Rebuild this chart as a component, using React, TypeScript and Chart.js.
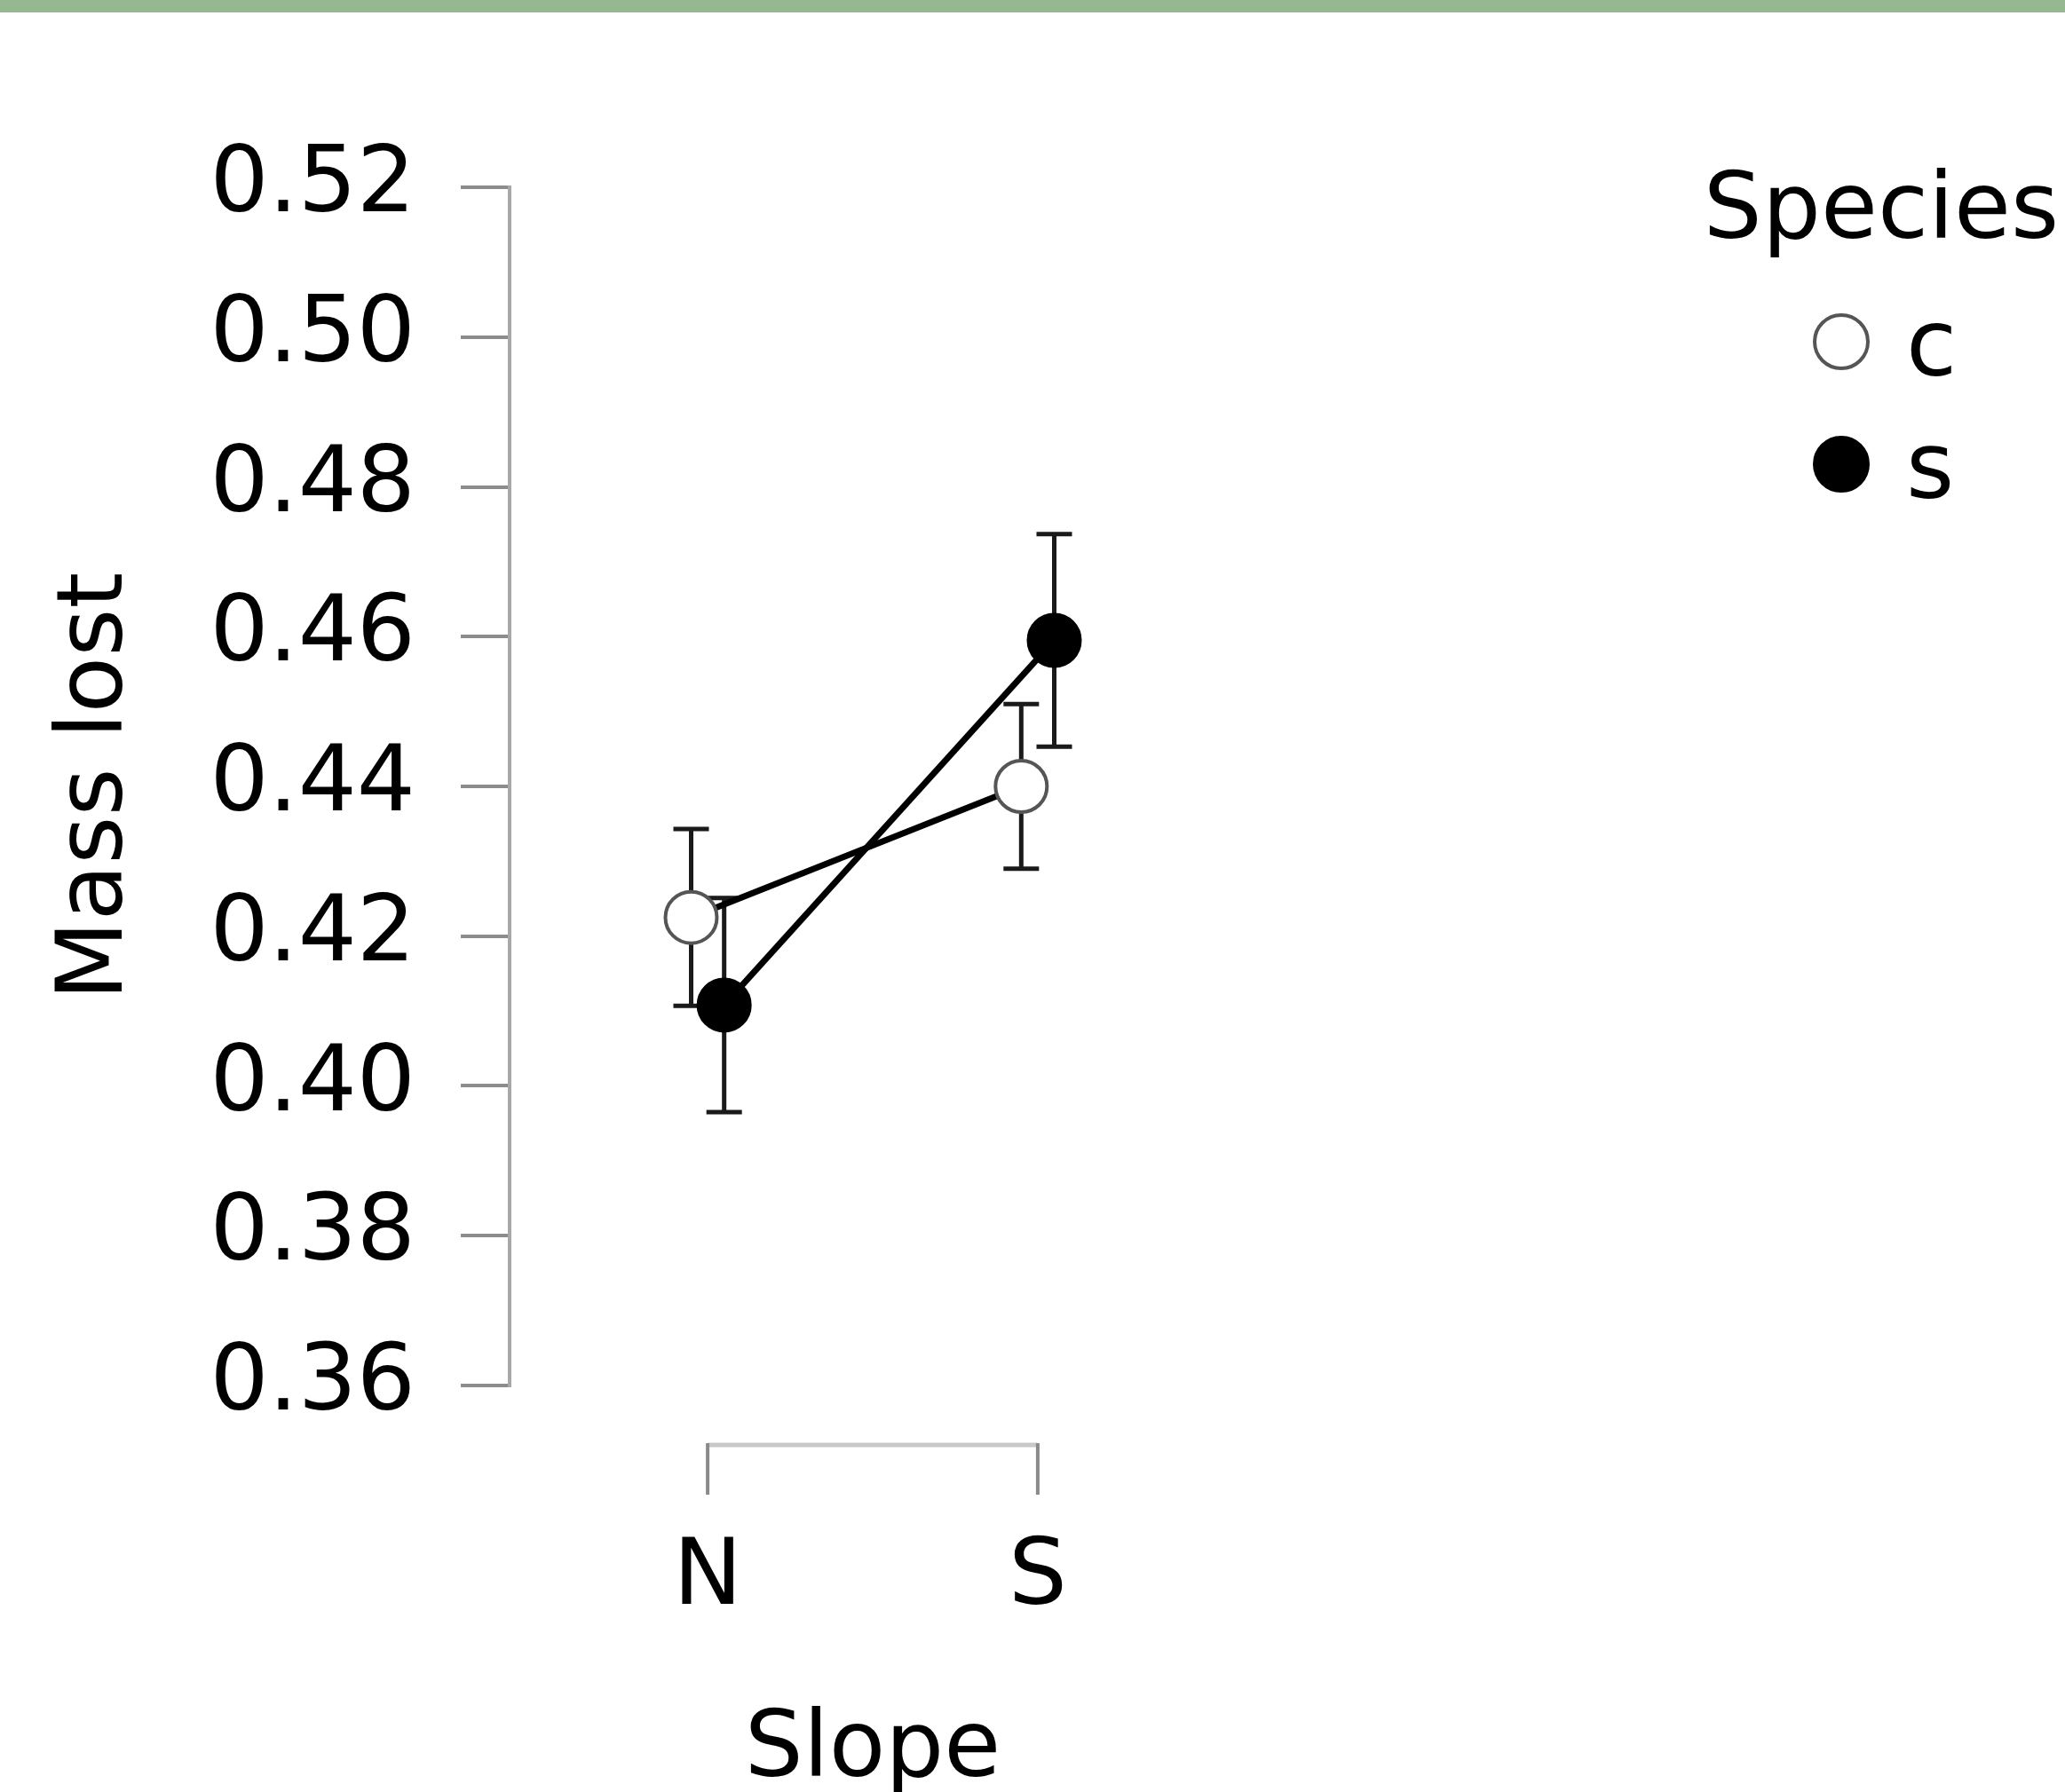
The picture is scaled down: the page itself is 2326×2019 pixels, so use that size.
import React, { useEffect, useRef } from 'react';
import { Chart, registerables } from 'chart.js';

Chart.register(...registerables);

// ---- data ----
const slopeLevels = ['N', 'S'];
const speciesNames = ['c', 's'];
const cMeans = [0.4225, 0.44];
const cErrors = [0.0118, 0.011];
const sMeans = [0.4108, 0.4595];
const sErrors = [0.0143, 0.0142];
const yTickValues = [0.36, 0.38, 0.4, 0.42, 0.44, 0.46, 0.48, 0.5, 0.52];
const xTitle = 'Slope';
const yTitle = 'Mass lost';
const legendTitle = 'Species';

// ---- style ----
const FONT = "'DejaVu Sans', sans-serif";
const FS = 104;
const W = 2326;
const H = 2019;
const DODGE = 0.05;

const errorBarPlugin = {
  id: 'errorBars',
  beforeDatasetsDraw(chart: any) {
    const { ctx } = chart;
    const ys = chart.scales.y;
    chart.data.datasets.forEach((ds: any, di: number) => {
      const meta = chart.getDatasetMeta(di);
      ctx.save();
      ctx.strokeStyle = '#1a1a1a';
      ctx.lineWidth = 5;
      meta.data.forEach((pt: any, i: number) => {
        const m = ds.data[i].y;
        const e = ds.errors[i];
        const x = pt.x;
        const top = ys.getPixelForValue(m + e);
        const bot = ys.getPixelForValue(m - e);
        ctx.beginPath();
        ctx.moveTo(x, top);
        ctx.lineTo(x, bot);
        ctx.moveTo(x - 20, top);
        ctx.lineTo(x + 20, top);
        ctx.moveTo(x - 20, bot);
        ctx.lineTo(x + 20, bot);
        ctx.stroke();
      });
      ctx.restore();
    });
  },
};

const xBracketPlugin = {
  id: 'xBracket',
  afterDraw(chart: any) {
    const { ctx, chartArea } = chart;
    const xs = chart.scales.x;
    const x0 = xs.getPixelForValue(0);
    const x1 = xs.getPixelForValue(slopeLevels.length - 1);
    const yLine = chartArea.bottom + 67;
    ctx.save();
    ctx.strokeStyle = '#c8c8c8';
    ctx.lineWidth = 5;
    ctx.beginPath();
    ctx.moveTo(x0, yLine);
    ctx.lineTo(x1, yLine);
    ctx.stroke();
    ctx.strokeStyle = '#8a8a8a';
    ctx.lineWidth = 4;
    slopeLevels.forEach((_, i) => {
      const px = xs.getPixelForValue(i);
      ctx.beginPath();
      ctx.moveTo(px, yLine - 2);
      ctx.lineTo(px, yLine + 56);
      ctx.stroke();
    });
    ctx.restore();
  },
};

const legendPlugin = {
  id: 'speciesLegend',
  afterDraw(chart: any) {
    const { ctx } = chart;
    ctx.save();
    ctx.font = `${FS}px ${FONT}`;
    ctx.fillStyle = '#000';
    ctx.textAlign = 'center';
    ctx.textBaseline = 'alphabetic';
    ctx.fillText(legendTitle, 2119, 268);
    chart.data.datasets.forEach((ds: any, i: number) => {
      const cx = 2074;
      const cy = 385 + i * 138;
      ctx.beginPath();
      ctx.arc(cx, cy, 30, 0, Math.PI * 2);
      ctx.fillStyle = ds.pointBackgroundColor;
      ctx.fill();
      ctx.lineWidth = ds.pointBorderWidth;
      ctx.strokeStyle = ds.pointBorderColor;
      ctx.stroke();
      ctx.fillStyle = '#000';
      ctx.textAlign = 'left';
      ctx.fillText(ds.label, 2147, cy + 38);
    });
    ctx.restore();
  },
};

export default function App() {
  const canvasRef = useRef<HTMLCanvasElement | null>(null);

  useEffect(() => {
    if (!canvasRef.current) return;
    const cData = cMeans.map((v, i) => ({ x: i - DODGE, y: v }));
    const sData = sMeans.map((v, i) => ({ x: i + DODGE, y: v }));

    const chart = new Chart(canvasRef.current, {
      type: 'line',
      data: {
        datasets: [
          {
            label: speciesNames[0],
            data: cData,
            errors: cErrors,
            borderColor: '#000',
            borderWidth: 7,
            pointRadius: 29,
            pointBackgroundColor: '#ffffff',
            pointBorderColor: '#555555',
            pointBorderWidth: 4,
            fill: false,
            tension: 0,
          } as any,
          {
            label: speciesNames[1],
            data: sData,
            errors: sErrors,
            borderColor: '#000',
            borderWidth: 7,
            pointRadius: 29,
            pointBackgroundColor: '#000000',
            pointBorderColor: '#000000',
            pointBorderWidth: 4,
            fill: false,
            tension: 0,
          } as any,
        ],
      },
      options: {
        animation: false,
        responsive: true,
        maintainAspectRatio: false,
        events: [],
        layout: { padding: { top: 211, right: 934, bottom: 0, left: 0 } },
        plugins: {
          legend: { display: false },
          tooltip: { enabled: false },
        },
        scales: {
          x: {
            type: 'linear',
            min: -0.6,
            max: 1.6,
            afterFit: (scale: any) => {
              scale.height = 458;
            },
            afterBuildTicks: (scale: any) => {
              scale.ticks = slopeLevels.map((_, i) => ({ value: i }));
            },
            grid: { display: false, drawTicks: false },
            border: { display: false },
            ticks: {
              padding: 167,
              maxRotation: 0,
              autoSkip: false,
              color: '#000',
              font: { family: FONT, size: FS, lineHeight: 1 },
              callback: (v: any) => slopeLevels[Math.round(Number(v))] ?? '',
            },
            title: {
              display: true,
              text: xTitle,
              color: '#000',
              padding: { top: 0, bottom: 1 },
              font: { family: FONT, size: FS, lineHeight: 0.84 },
            },
          },
          y: {
            type: 'linear',
            min: 0.36,
            max: 0.52,
            afterFit: (scale: any) => {
              scale.width = 574;
            },
            afterBuildTicks: (scale: any) => {
              scale.ticks = yTickValues.map((v) => ({ value: v }));
            },
            grid: {
              display: true,
              drawOnChartArea: false,
              drawTicks: true,
              tickLength: 55,
              color: '#8c8c8c',
              lineWidth: 4,
            },
            border: { display: true, color: '#a8a8a8', width: 4 },
            ticks: {
              padding: 51,
              color: '#000',
              font: { family: FONT, size: FS, lineHeight: 1 },
              callback: (v: any) => Number(v).toFixed(2),
            },
            title: {
              display: true,
              text: yTitle,
              color: '#000',
              padding: { top: 58, bottom: 0 },
              font: { family: FONT, size: FS, lineHeight: 1 },
            },
          },
        },
      } as any,
      plugins: [errorBarPlugin, xBracketPlugin, legendPlugin],
    });
    return () => chart.destroy();
  }, []);

  return (
    <div style={{ position: 'fixed', left: 0, top: 0, width: W, height: H, background: '#fff', overflow: 'hidden' }}>
      <canvas ref={canvasRef} style={{ display: 'block' }} />
      <div style={{ position: 'absolute', left: 0, top: 0, width: W, height: 14, background: '#96b890' }} />
    </div>
  );
}
